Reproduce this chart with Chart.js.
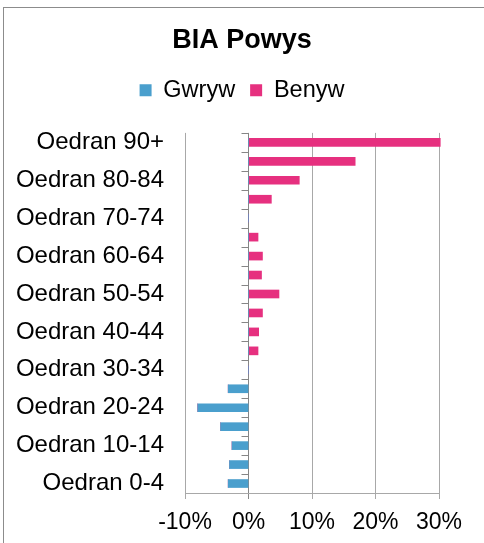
<!DOCTYPE html>
<html>
<head>
<meta charset="utf-8">
<script src="https://cdn.jsdelivr.net/npm/chart.js@4"></script>
<style>
  html, body { margin: 0; background: #fff; overflow: hidden; }
  #wrap { position: relative; width: 484px; height: 543px; }
  #frame { position: absolute; left: 3px; top: 7px; width: 520px; height: 580px; border: 1px solid #8c8c8c; }
  canvas { position: absolute; left: 0; top: 0; }
</style>
</head>
<body>
<div id="wrap">
  <div id="frame"></div>
  <canvas id="pyramidChart" width="484" height="543"></canvas>
</div>
<script>
// Age bands, oldest at the top
const ageGroups = [
  'Oedran 90+', 'Oedran 85-89', 'Oedran 80-84', 'Oedran 75-79', 'Oedran 70-74',
  'Oedran 65-69', 'Oedran 60-64', 'Oedran 55-59', 'Oedran 50-54', 'Oedran 45-49',
  'Oedran 40-44', 'Oedran 35-39', 'Oedran 30-34', 'Oedran 25-29', 'Oedran 20-24',
  'Oedran 15-19', 'Oedran 10-14', 'Oedran 5-9', 'Oedran 0-4'
];

// Percentages (male shown as negative)
const gwrywValues = [0, 0, 0, 0, 0, 0, 0, 0, 0, 0, 0, 0, 0, -3.2, -8.0, -4.4, -2.6, -3.0, -3.2];
const benywValues = [30.2, 16.8, 8.0, 3.6, 0, 1.5, 2.2, 2.05, 4.8, 2.2, 1.6, 1.5, 0, 0, 0, 0, 0, 0, 0];

const xTicks = [-10, 0, 10, 20, 30];

const blue = '#4A9FCD';
const pink = '#E6307F';

// small tick marks along the zero line, at each band edge
const zeroTicks = {
  id: 'zeroTicks',
  afterDatasetsDraw(chart) {
    const x0 = chart.scales.x.getPixelForValue(0);
    const y = chart.scales.y;
    const band = y.getPixelForValue(1) - y.getPixelForValue(0);
    const c = chart.ctx;
    c.save();
    c.strokeStyle = '#868686';
    c.lineWidth = 1;
    for (let i = 0; i < ageGroups.length; i++) {
      const py = Math.round(y.getPixelForValue(i) - band / 2) + 0.5;
      c.beginPath();
      c.moveTo(x0 - 7, py);
      c.lineTo(x0, py);
      c.stroke();
    }
    c.restore();
  }
};

// extra room under the legend
const legendGap = {
  id: 'legendGap',
  beforeInit(chart) {
    const fit = chart.legend.fit;
    chart.legend.fit = function () {
      fit.bind(chart.legend)();
      this.height += 21;
    };
  }
};

const ctx = document.getElementById('pyramidChart').getContext('2d');
new Chart(ctx, {
  type: 'bar',
  data: {
    labels: ageGroups,
    datasets: [
      { label: 'Gwryw', data: gwrywValues, backgroundColor: blue, barThickness: 8, clip: false },
      { label: 'Benyw', data: benywValues, backgroundColor: pink, barThickness: 8, clip: false }
    ]
  },
  options: {
    indexAxis: 'y',
    responsive: false,
    animation: false,
    layout: { padding: { left: 0, right: 0, top: 0, bottom: 0 } },
    scales: {
      x: {
        stacked: true,
        min: -10,
        max: 30,
        afterBuildTicks(scale) { scale.ticks = xTicks.map(v => ({ value: v })); },
        afterFit(scale) { scale.height -= 3; },
        ticks: {
          callback: v => v + '%',
          color: '#000',
          padding: 12,
          font: { family: 'Liberation Sans', size: 23, lineHeight: 1.0 }
        },
        grid: {
          color: c => (c.tick && c.tick.value === 0) ? '#868686' : '#A8A8A8',
          tickLength: 6
        },
        border: { display: true, color: '#A8A8A8' }
      },
      y: {
        stacked: true,
        afterFit(scale) { scale.width = 185; },
        ticks: {
          autoSkip: false,
          padding: 13,
          color: '#000',
          font: { family: 'Liberation Sans', size: 24 },
          callback: function (v, i) { return i % 2 === 0 ? ageGroups[i] : ''; }
        },
        grid: { display: false },
        border: { display: false }
      },
      // empty right-hand spacer so the title and legend stay centred on the page
      spacer: {
        type: 'linear',
        axis: 'y',
        position: 'right',
        display: true,
        afterFit(scale) { scale.width = 45; },
        ticks: { display: false },
        grid: { display: false },
        border: { display: false }
      }
    },
    plugins: {
      title: {
        display: true,
        text: 'BIA Powys',
        color: '#000',
        font: { family: 'Liberation Sans', size: 27, weight: 'bold' },
        padding: { top: 24, bottom: 7 }
      },
      legend: {
        display: true,
        labels: {
          color: '#000',
          boxWidth: 12,
          boxHeight: 12,
          padding: 15,
          font: { family: 'Liberation Sans', size: 23.5 }
        }
      },
      tooltip: { enabled: false }
    }
  },
  plugins: [zeroTicks, legendGap]
});
</script>
</body>
</html>
